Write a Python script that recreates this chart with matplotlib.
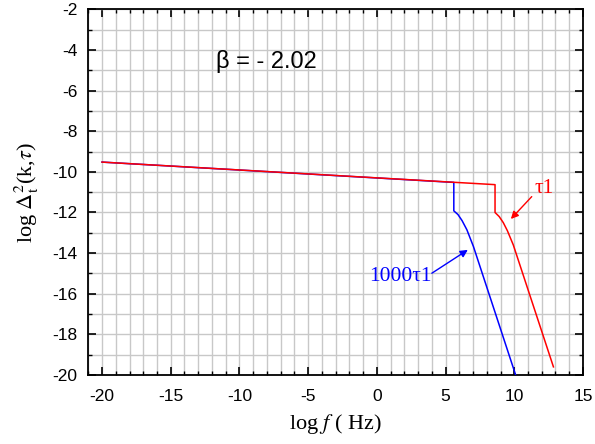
import matplotlib
matplotlib.use('Agg')
import matplotlib.pyplot as plt
from matplotlib.ticker import MultipleLocator

# curve for tau1 (red) and 1000 tau1 (blue)
red_x = [-20, 8.6, 8.6, 8.9, 9.2, 9.5, 9.93, 12.85]
red_y = [-9.52, -10.63, -12.0, -12.2, -12.5, -12.9, -13.6, -19.6]
blue_x = [-20, 5.6, 5.6, 5.9, 6.2, 6.55, 7.03, 10.1]
blue_y = [-9.52, -10.52, -11.92, -12.1, -12.4, -12.85, -13.68, -20.0]

serif = ['Liberation Serif', 'DejaVu Serif']
sans = ['Liberation Sans', 'DejaVu Sans']
plt.rcParams['font.family'] = sans
plt.rcParams['mathtext.fontset'] = 'stix'
plt.rcParams['axes.unicode_minus'] = False

fig = plt.figure(figsize=(5.95, 4.44), dpi=100)
ax = fig.add_axes([0.1484, 0.1554, 0.8314, 0.8236])

ax.plot(blue_x, blue_y, color='#0000ff', lw=1.1, zorder=3)
ax.plot(red_x, red_y, color='#ff0000', lw=1.1, zorder=3)

ax.set_xlim(-21, 15)
ax.set_ylim(-20, -2)
ax.xaxis.set_major_locator(MultipleLocator(5))
ax.xaxis.set_minor_locator(MultipleLocator(1))
ax.yaxis.set_major_locator(MultipleLocator(2))
ax.yaxis.set_minor_locator(MultipleLocator(1))
ax.grid(True, which='both', color='#c8c8c8', lw=1.0, zorder=0)
ax.set_axisbelow(True)
ax.tick_params(which='both', direction='in', top=True, right=True,
               labelsize=12.5, color='black')
ax.tick_params(which='major', length=6, width=1.2)
ax.tick_params(axis='x', which='major', pad=10)
ax.tick_params(axis='y', which='major', pad=8)
ax.tick_params(which='minor', length=3, width=1.0)
for s in ax.spines.values():
    s.set_linewidth(1.3)

ax.set_xlabel(r'log $f$ ( Hz)', family=serif, fontsize=16, labelpad=6)
ax.set_ylabel(r'log $\Delta_\mathrm{t}^\mathrm{2}$(k,$\tau$)', family=serif,
              fontsize=16, labelpad=8)

ax.text(-8.05, -4.58, 'β = - 2.02', fontsize=17, ha='center', va='center')
ax.text(12.2, -10.8, 'τ1', color='#ff0000', family=serif, fontsize=15.5,
        ha='center', va='center')
ax.text(1.7, -15.15, '1000τ1', color='#0000ff', family=serif, fontsize=15.5,
        ha='center', va='center')
ax.annotate('', xy=(9.75, -12.32), xytext=(11.27, -11.22),
            arrowprops=dict(arrowstyle='-|>', color='#ff0000', lw=1.0,
                            mutation_scale=11, shrinkA=0, shrinkB=0))
ax.annotate('', xy=(6.62, -13.84), xytext=(4.0, -14.99),
            arrowprops=dict(arrowstyle='-|>', color='#0000ff', lw=1.0,
                            mutation_scale=11, shrinkA=0, shrinkB=0))

fig.savefig('out.png', dpi=100)
